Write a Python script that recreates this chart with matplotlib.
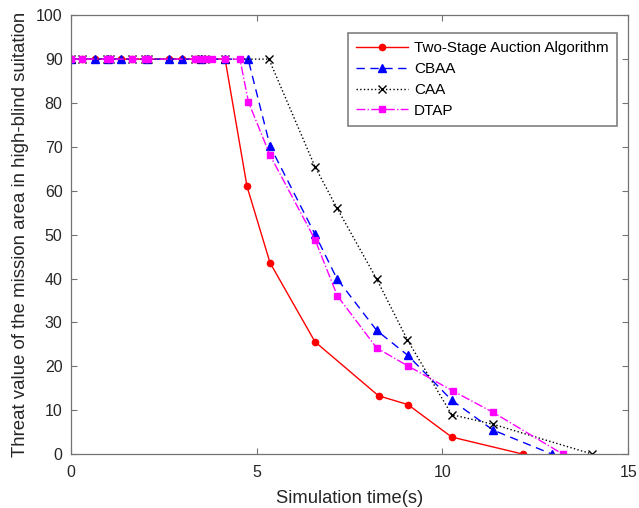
import matplotlib.pyplot as plt

plt.rcParams["font.family"] = ["Liberation Sans", "DejaVu Sans"]

# Two-Stage Auction Algorithm
tsa_x = [0, 0.3, 0.65, 1.0, 1.35, 1.65, 2.0, 2.65, 3.0, 3.35, 3.6, 4.15,
         4.74, 5.36, 6.57, 8.28, 9.07, 10.25, 12.17]
tsa_y = [90, 90, 90, 90, 90, 90, 90, 90, 90, 90, 90, 90,
         61, 43.6, 25.6, 13.3, 11.3, 3.9, 0]

# CBAA
cbaa_x = [0, 0.65, 1.0, 1.35, 2.05, 2.65, 3.0, 3.5, 4.15, 4.77,
          5.36, 6.57, 7.16, 8.23, 9.07, 10.25, 11.36, 12.95]
cbaa_y = [90, 90, 90, 90, 90, 90, 90, 90, 90, 90,
          70.2, 50.1, 40.0, 28.2, 22.5, 12.3, 5.5, 0]

# CAA
caa_x = [0, 0.3, 0.97, 1.05, 1.65, 2.0, 2.07, 3.35, 3.5, 3.6, 4.15, 5.33,
         6.57, 7.16, 8.23, 9.06, 10.25, 11.37, 14.04]
caa_y = [90, 90, 90, 90, 90, 90, 90, 90, 90, 90, 90, 90,
         65.5, 56.1, 39.9, 26.0, 9.0, 6.8, 0]

# DTAP
dtap_x = [0, 0.3, 0.97, 1.05, 1.65, 2.0, 2.07, 3.35, 3.5, 3.6, 3.8, 4.15, 4.55,
          4.78, 5.36, 6.57, 7.17, 8.23, 9.07, 10.28, 11.37, 13.24]
dtap_y = [90, 90, 90, 90, 90, 90, 90, 90, 90, 90, 90, 90, 90,
          80.2, 68.1, 48.9, 36.1, 24.2, 20.1, 14.4, 9.5, 0]

fig = plt.figure(figsize=(6.39, 5.08), dpi=100)
ax = fig.add_axes([0.111, 0.106, 0.872, 0.864])

ax.plot(tsa_x, tsa_y, color="red", linestyle="-", marker="o", markersize=4.5,
        linewidth=1, label="Two-Stage Auction Algorithm")
ax.plot(cbaa_x, cbaa_y, color="blue", linestyle=(0, (6, 4)), marker="^",
        markersize=5.5, linewidth=1, label="CBAA")
ax.plot(caa_x, caa_y, color="black", linestyle=":", marker="x", markersize=6,
        linewidth=1, label="CAA")
ax.plot(dtap_x, dtap_y, color="magenta", linestyle="-.", marker="s",
        markersize=4.5, linewidth=1, label="DTAP")

ax.set_xlim(0, 15)
ax.set_ylim(0, 100)
ax.set_xticks([0, 5, 10, 15])
ax.set_yticks(range(0, 101, 10))
ax.tick_params(direction="in", top=True, right=True, labelsize=11.5,
               labelcolor="0.15", color="0.45", length=4, pad=6)
ax.tick_params(axis="x", pad=8)
for s in ax.spines.values():
    s.set_color("0.45")
    s.set_linewidth(0.9)

ax.set_xlabel("Simulation time(s)", fontsize=13.2, color="0.15", labelpad=7)
ax.set_ylabel("Threat value of the mission area in high-blind suitation",
              fontsize=13.4, color="0.15", labelpad=5)

leg = ax.legend(loc="upper right", bbox_to_anchor=(0.98, 0.96),
                fontsize=11, fancybox=False, framealpha=1,
                edgecolor="0.5", handlelength=3.4, handletextpad=0.4,
                borderpad=0.55, labelspacing=0.45, borderaxespad=0)
leg.get_frame().set_linewidth(1.2)

fig.savefig("out.png", dpi=100)
